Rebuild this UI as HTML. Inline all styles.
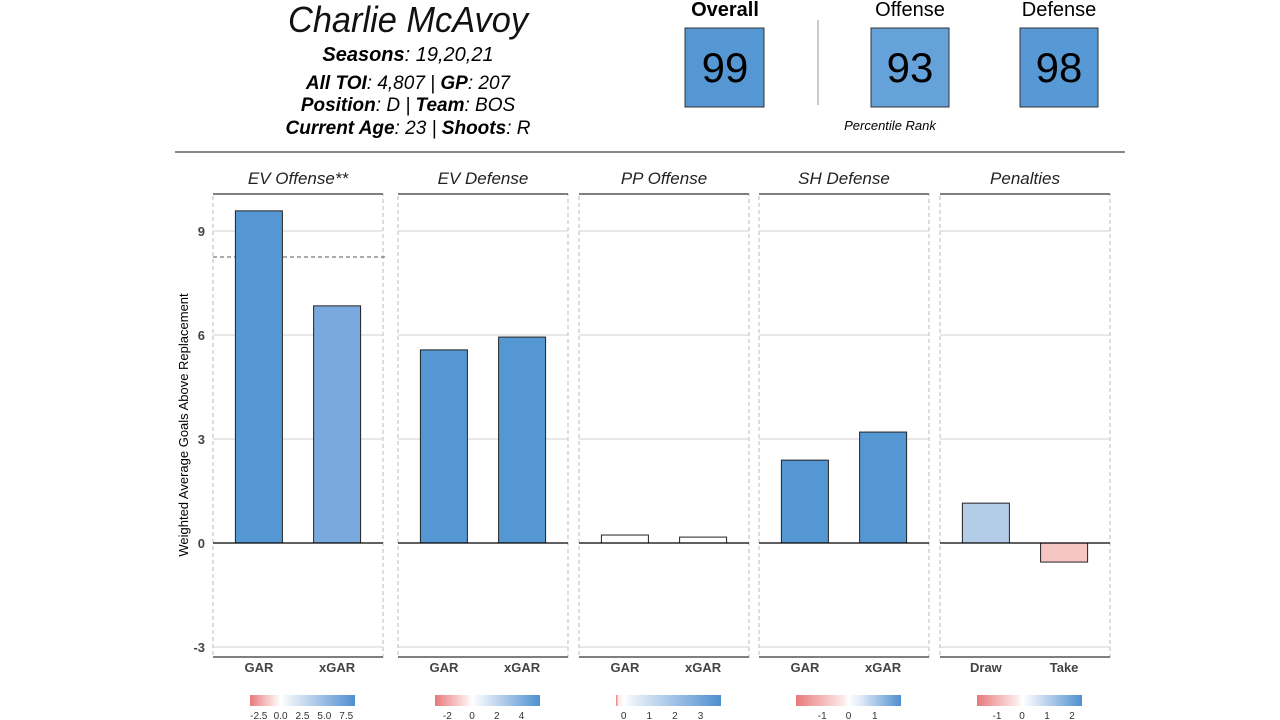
<!DOCTYPE html>
<html><head><meta charset="utf-8"><style>
body{margin:0;background:#fff;width:1280px;height:720px;overflow:hidden;font-family:"Liberation Sans","DejaVu Sans",sans-serif}
svg{position:absolute;left:0;top:0}
</style></head><body>
<svg width="1280" height="720" id="chart" font-family="Liberation Sans, DejaVu Sans, sans-serif">
<g>
<text x="408" y="32" font-size="36" font-style="italic" text-anchor="middle" fill="#111" textLength="240" lengthAdjust="spacingAndGlyphs">Charlie McAvoy</text>
<text x="408" y="61" font-size="20" font-style="italic" text-anchor="middle"><tspan font-weight="bold">Seasons</tspan>: 19,20,21</text>
<text x="408" y="89" font-size="19" font-style="italic" text-anchor="middle"><tspan font-weight="bold">All TOI</tspan>: 4,807 | <tspan font-weight="bold">GP</tspan>: 207</text>
<text x="408" y="111" font-size="19" font-style="italic" text-anchor="middle"><tspan font-weight="bold">Position</tspan>: D | <tspan font-weight="bold">Team</tspan>: BOS</text>
<text x="408" y="134" font-size="19" font-style="italic" text-anchor="middle"><tspan font-weight="bold">Current Age</tspan>: 23 | <tspan font-weight="bold">Shoots</tspan>: R</text>
<text x="725" y="16" font-size="20" font-weight="bold" text-anchor="middle">Overall</text>
<rect x="685" y="28" width="79" height="79" fill="#5597d3" stroke="#333"/>
<text x="725" y="82" font-size="42" text-anchor="middle">99</text>
<line x1="818" y1="20" x2="818" y2="105" stroke="#999"/>
<text x="910" y="16" font-size="20" text-anchor="middle">Offense</text>
<rect x="871" y="28" width="78" height="79" fill="#65a2d9" stroke="#333"/>
<text x="910" y="82" font-size="42" text-anchor="middle">93</text>
<text x="1059" y="16" font-size="20" text-anchor="middle">Defense</text>
<rect x="1020" y="28" width="78" height="79" fill="#5699d4" stroke="#333"/>
<text x="1059" y="82" font-size="42" text-anchor="middle">98</text>
<text x="890" y="130" font-size="13" font-style="italic" text-anchor="middle">Percentile Rank</text>
<line x1="175" y1="152" x2="1125" y2="152" stroke="#888" stroke-width="2"/>
</g>
<text transform="translate(188,425) rotate(-90)" font-size="13" text-anchor="middle">Weighted Average Goals Above Replacement</text>
<g id="plot"></g>
</svg>
<script>
const panelTitles=["EV Offense**","EV Defense","PP Offense","SH Defense","Penalties"];
const catA=["GAR","GAR","GAR","GAR","Draw"];
const catB=["xGAR","xGAR","xGAR","xGAR","Take"];
const valA=[9.58,5.57,0.23,2.39,1.15];
const valB=[6.84,5.94,0.17,3.2,-0.55];
const fillA=["#5597d3","#5597d3","#ffffff","#5597d3","#b3cde9"];
const fillB=["#7aaadd","#5597d3","#ffffff","#5597d3","#f8c5c5"];
const refLine=[8.25,null,null,null,null];
const yTicks=[-3,0,3,6,9];
const legendTicks=[["-2.5","0.0","2.5","5.0","7.5"],["-2","0","2","4"],["0","1","2","3"],["-1","0","1"],["-1","0","1","2"]];
const legendMin=[-3.5,-3,-0.3,-2,-1.8];
const legendMax=[8.5,5.5,3.8,2,2.4];
const NS="http://www.w3.org/2000/svg";
const g=document.getElementById('plot');
const panelX=[213,398,579,759,940], panelW=170, topY=194, bottomY=657;
const y=v=>543-v*34.67;
function el(t,a,p){const e=document.createElementNS(NS,t);for(const k in a)e.setAttribute(k,a[k]);(p||g).appendChild(e);return e;}
yTicks.forEach(t=>{
 const tx=el('text',{x:205,y:y(t)+5,'font-size':13,'font-weight':'bold','text-anchor':'end',fill:'#444'});
 
 
 tx.textContent=t;
});
panelTitles.forEach((title,i)=>{
 const x0=panelX[i], pg=el('g',{});
 
 
 const tt=el('text',{x:x0+panelW/2,y:184,'font-size':17,'font-style':'italic','text-anchor':'middle',fill:'#222'},pg);
 
 
 tt.textContent=title;
 const br=el('rect',{x:x0,y:topY,width:panelW,height:bottomY-topY,fill:'none',stroke:'#bbb','stroke-dasharray':'4,3'},pg);
 
 
 yTicks.forEach(t=>{if(t!==0){const gl=el('line',{x1:x0,x2:x0+panelW,y1:y(t),y2:y(t),stroke:'#d0d0d0'},pg);
  
  }});
 const st=el('line',{x1:x0,x2:x0+panelW,y1:topY,y2:topY,stroke:'#555','stroke-width':1.5},pg);
 
 
 const ax=el('line',{x1:x0,x2:x0+panelW,y1:bottomY,y2:bottomY,stroke:'#555','stroke-width':1.5},pg);
 
 
 if(refLine[i]!==null){const rl=el('line',{x1:x0,x2:x0+panelW+5,y1:y(refLine[i]),y2:y(refLine[i]),stroke:'#555','stroke-dasharray':'4,3'},pg);
  
  }
 [[valA[i],fillA[i],catA[i],0.27],[valB[i],fillB[i],catB[i],0.73]].forEach(([v,f,c,fr])=>{
  const cx=x0+panelW*fr, w=47;
  const b=el('rect',{x:cx-w/2,y:Math.min(y(v),y(0)),width:w,height:Math.abs(y(v)-y(0)),fill:f,stroke:'#222'},pg);
  
  
  const l=el('text',{x:cx,y:672,'font-size':13,'font-weight':'bold','text-anchor':'middle',fill:'#444'},pg);
  
  
  l.textContent=c;
 });
 const zl=el('line',{x1:x0,x2:x0+panelW,y1:y(0),y2:y(0),stroke:'#000','stroke-width':1.3},pg);
 
 
 const lx=x0+37, lw=105, gid='grad'+i;
 const mn=legendMin[i], mx=legendMax[i], zf=(0-mn)/(mx-mn);
 const defs=el('defs',{},pg);
 const lg=el('linearGradient',{id:gid},defs);
 el('stop',{offset:0,'stop-color':'#e8797c'},lg);
 el('stop',{offset:Math.max(0,zf-0.05),'stop-color':'#fde9e9'},lg);
 el('stop',{offset:zf,'stop-color':'#ffffff'},lg);
 el('stop',{offset:Math.min(1,zf+0.1),'stop-color':'#e6eef8'},lg);
 el('stop',{offset:1,'stop-color':'#4f8fd0'},lg);
 const cb=el('rect',{x:lx,y:695,width:lw,height:11,fill:'url(#'+gid+')'},pg);
 
 
 legendTicks[i].forEach(t=>{
  const tx=lx+(parseFloat(t)-mn)/(mx-mn)*lw;
  const lt=el('text',{x:tx,y:719,'font-size':10,'text-anchor':'middle',fill:'#333'},pg);
  
  
  lt.textContent=t;
 });
});
</script>
</body></html>
